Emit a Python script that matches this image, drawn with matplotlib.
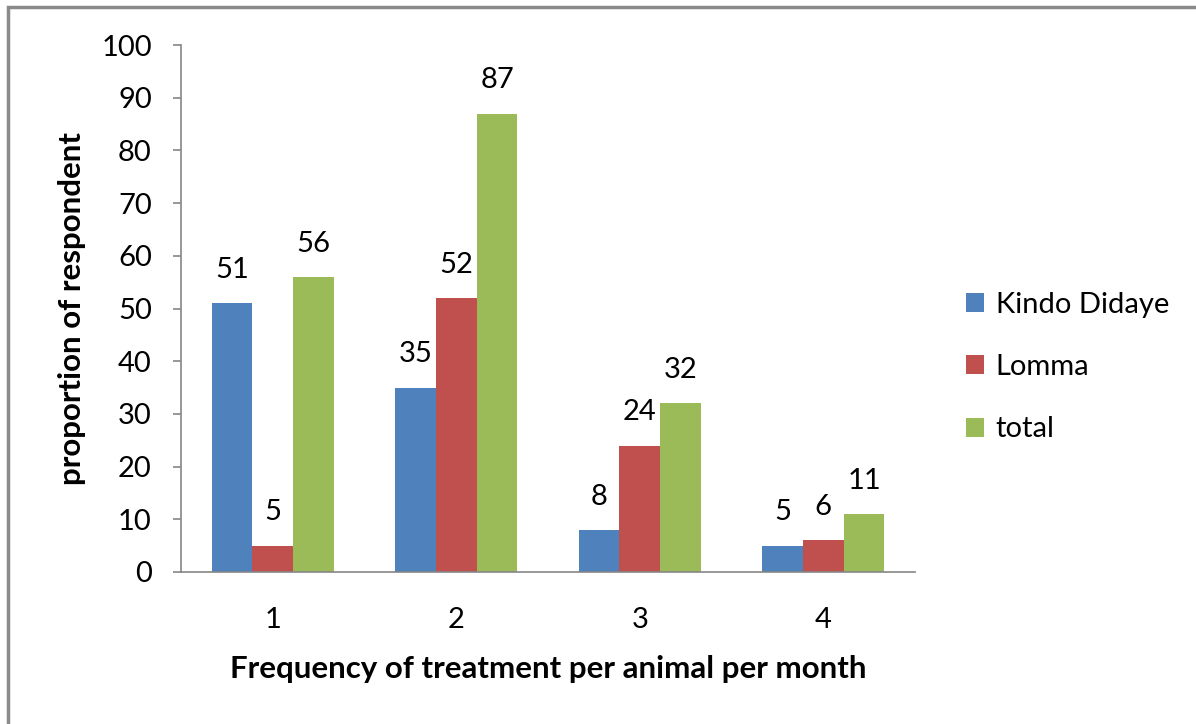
import matplotlib
matplotlib.use("Agg")
import matplotlib.pyplot as plt
from matplotlib.patches import Patch, Rectangle
import numpy as np

categories = ["1", "2", "3", "4"]
series_names = ["Kindo Didaye", "Lomma", "total"]
kindo_didaye = [51, 35, 8, 5]
lomma = [5, 52, 24, 6]
total = [56, 87, 32, 11]
y_ticks = [0, 10, 20, 30, 40, 50, 60, 70, 80, 90, 100]

colors = ["#4F81BD", "#C0504D", "#9BBB59"]
plt.rcParams["font.family"] = ["Lato", "DejaVu Sans"]

fig = plt.figure(figsize=(11.96, 7.24), dpi=100)
ax = fig.add_axes([181 / 1196, 1 - 572 / 724, (915 - 181) / 1196, (572 - 45) / 724])

x = np.arange(len(categories))
width = 1 / 4.5
fs = 21
label_fs = 22.5

for i, (vals, col) in enumerate(zip([kindo_didaye, lomma, total], colors)):
    pos = x + (i - 1) * width
    ax.bar(pos, vals, width=width, color=col, edgecolor="none", zorder=2)
    for px, v in zip(pos, vals):
        ax.annotate(str(v), (px, v), xytext=(0, 24), textcoords="offset points",
                    ha="center", va="center", fontsize=fs, color="#000000")

ax.set_xlim(-0.5, len(categories) - 0.5)
ax.set_ylim(0, 100)
ax.set_yticks(y_ticks)
ax.set_xticks(x)
ax.set_xticklabels(categories)

for s in ["top", "right"]:
    ax.spines[s].set_visible(False)
for s in ["left", "bottom"]:
    ax.spines[s].set_color("#868686")
    ax.spines[s].set_linewidth(1.2)

ax.tick_params(axis="y", length=6, width=1.2, color="#868686", pad=15, labelsize=fs)
ax.tick_params(axis="x", length=0, pad=25, labelsize=fs)

ax.set_xlabel("Frequency of treatment per animal per month", fontsize=label_fs, fontweight="bold", labelpad=16)
ax.set_ylabel("proportion of respondent", fontsize=label_fs, fontweight="bold", labelpad=11)

handles = [Patch(facecolor=c, edgecolor="none") for c in colors]
fig.legend(handles, series_names, loc="center left", bbox_to_anchor=(966 / 1196, 1 - 367 / 724),
           frameon=False, fontsize=fs, handlelength=0.62, handleheight=0.62,
           handletextpad=0.4, labelspacing=1.25, borderpad=0, borderaxespad=0)

fig.patches.append(Rectangle((8 / 1196, -0.1), 1.2, 1.1 - 7 / 724, transform=fig.transFigure,
                             facecolor="none", edgecolor="#8a8a8a", linewidth=2.5))

fig.savefig("out.png", dpi=100)
